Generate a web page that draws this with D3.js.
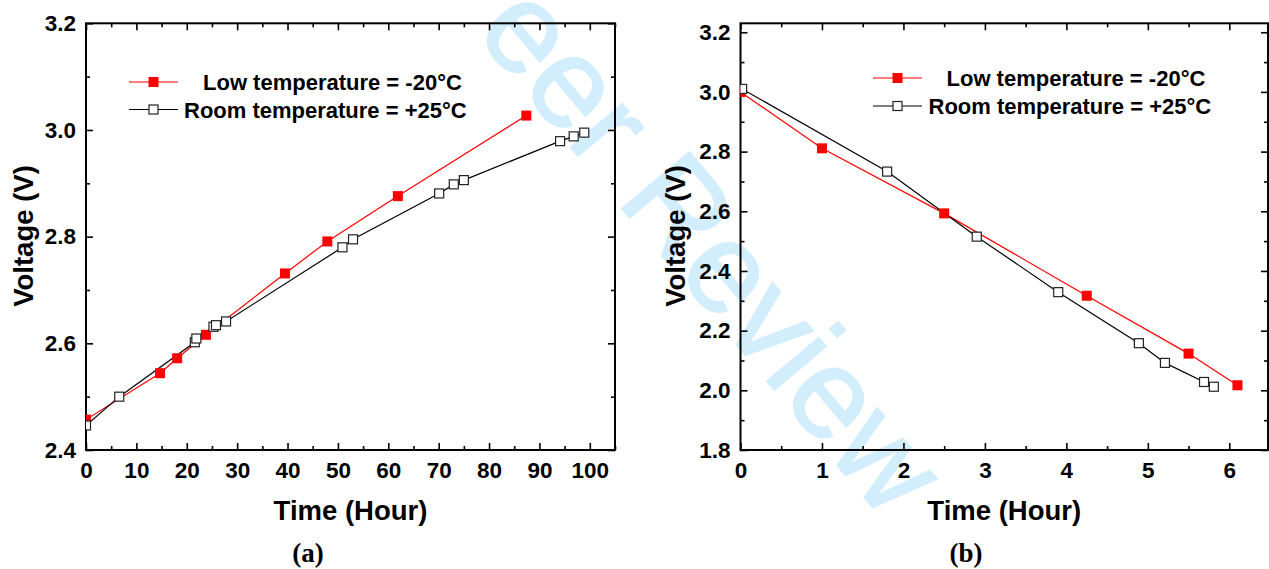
<!DOCTYPE html>
<html>
<head>
<meta charset="utf-8">
<script src="https://cdn.jsdelivr.net/npm/d3@7"></script>
<style>
  html, body { margin: 0; padding: 0; background: #fff; }
  svg { display: block; }
</style>
</head>
<body>
<svg id="fig" width="1269" height="569"></svg>
<script>
// (a) charging curves: time in hours, voltage in volts
const chargeLowTime  = [0, 14.7, 18.1, 23.8, 39.5, 47.9, 61.9, 87.4];
const chargeLowVolt  = [2.457, 2.544, 2.572, 2.616, 2.731, 2.791, 2.876, 3.027];
const chargeRoomTime = [0, 6.6, 21.6, 21.9, 25.3, 25.8, 27.8, 50.9, 53.0, 70.1, 73.0, 75.0, 94.1, 96.8, 98.9];
const chargeRoomVolt = [2.446, 2.500, 2.602, 2.609, 2.631, 2.634, 2.641, 2.780, 2.795, 2.881, 2.898, 2.906, 2.979, 2.988, 2.995];

// (b) discharging curves
const dischargeLowTime  = [0, 1.0, 2.5, 4.25, 5.5, 6.1];
const dischargeLowVolt  = [3.0, 2.811, 2.593, 2.317, 2.123, 2.017];
const dischargeRoomTime = [0.02, 1.8, 2.9, 3.9, 4.89, 5.21, 5.69, 5.81];
const dischargeRoomVolt = [3.01, 2.733, 2.515, 2.329, 2.158, 2.092, 2.028, 2.012];

const seriesNames = ["Low temperature = -20°C", "Room temperature = +25°C"];
const xTitle = "Time (Hour)";
const yTitle = "Voltage (V)";

// tick labels
const xTicksA = [0, 10, 20, 30, 40, 50, 60, 70, 80, 90, 100];
const yTicksA = [2.4, 2.6, 2.8, 3.0, 3.2];
const xTicksB = [0, 1, 2, 3, 4, 5, 6];
const yTicksB = [1.8, 2.0, 2.2, 2.4, 2.6, 2.8, 3.0, 3.2];

const SANS = "'Liberation Sans', Arial, Helvetica, sans-serif";
const SERIF = "'Liberation Serif', 'Times New Roman', serif";
const RED = "#ff0000";

const svg = d3.select("#fig");

// faint diagonal stamp behind the figure
svg.append("text")
  .attr("transform", "translate(885,522) rotate(50)")
  .attr("text-anchor", "end")
  .attr("font-family", SANS)
  .attr("font-size", 128)
  .attr("fill", "#d2edfb")
  .attr("stroke", "#d2edfb")
  .attr("stroke-width", 1.8)
  .text("For Peer Review");

function panel(cfg) {
  const x = d3.scaleLinear().domain(cfg.xDomain).range([cfg.left, cfg.right]);
  const y = d3.scaleLinear().domain(cfg.yDomain).range([cfg.bottom, cfg.top]);
  const g = svg.append("g");

  const clipId = "clip-" + cfg.id;
  svg.append("clipPath").attr("id", clipId)
    .append("rect")
    .attr("x", cfg.left).attr("y", cfg.top)
    .attr("width", cfg.right - cfg.left).attr("height", cfg.bottom - cfg.top);

  const styleAxis = sel => {
    sel.select(".domain").remove();
    sel.selectAll(".tick line").attr("stroke", "#000").attr("stroke-width", 1.6);
    sel.selectAll("text")
      .attr("font-family", SANS).attr("font-weight", "bold")
      .attr("font-size", 22.5).attr("fill", "#000");
  };

  const [x0, x1] = cfg.xDomain, [y0, y1] = cfg.yDomain;
  const xMinor = d3.range(x0, x1 + 1e-9, cfg.xMinorStep).filter(v => !cfg.xTicks.some(t => Math.abs(t - v) < 1e-9));
  const yMinor = d3.range(cfg.yTicks[0], y1 + 1e-9, cfg.yMinorStep).filter(v => !cfg.yTicks.some(t => Math.abs(t - v) < 1e-9));

  // bottom
  g.append("g").attr("transform", `translate(0,${cfg.bottom})`)
    .call(d3.axisBottom(x).tickValues(cfg.xTicks).tickSize(-7).tickPadding(12.5).tickFormat(d3.format("d")))
    .call(styleAxis);
  g.append("g").attr("transform", `translate(0,${cfg.bottom})`)
    .call(d3.axisBottom(x).tickValues(xMinor).tickSize(-4).tickFormat(""))
    .call(styleAxis);
  // top
  g.append("g").attr("transform", `translate(0,${cfg.top})`)
    .call(d3.axisTop(x).tickValues(cfg.xTicks).tickSize(-7).tickFormat(""))
    .call(styleAxis);
  g.append("g").attr("transform", `translate(0,${cfg.top})`)
    .call(d3.axisTop(x).tickValues(xMinor).tickSize(-4).tickFormat(""))
    .call(styleAxis);
  // left
  g.append("g").attr("transform", `translate(${cfg.left},0)`)
    .call(d3.axisLeft(y).tickValues(cfg.yTicks).tickSize(-7).tickPadding(10).tickFormat(d3.format(".1f")))
    .call(styleAxis);
  g.append("g").attr("transform", `translate(${cfg.left},0)`)
    .call(d3.axisLeft(y).tickValues(yMinor).tickSize(-4).tickFormat(""))
    .call(styleAxis);
  // right
  g.append("g").attr("transform", `translate(${cfg.right},0)`)
    .call(d3.axisRight(y).tickValues(cfg.yTicks).tickSize(-7).tickFormat(""))
    .call(styleAxis);
  g.append("g").attr("transform", `translate(${cfg.right},0)`)
    .call(d3.axisRight(y).tickValues(yMinor).tickSize(-4).tickFormat(""))
    .call(styleAxis);

  // plot frame
  g.append("rect")
    .attr("x", cfg.left).attr("y", cfg.top)
    .attr("width", cfg.right - cfg.left).attr("height", cfg.bottom - cfg.top)
    .attr("fill", "none").attr("stroke", "#000").attr("stroke-width", 2);

  // data
  const plot = g.append("g").attr("clip-path", `url(#${clipId})`);
  const line = d3.line().x(d => x(d[0])).y(d => y(d[1]));
  const low = d3.zip(cfg.lowTime, cfg.lowVolt);
  const room = d3.zip(cfg.roomTime, cfg.roomVolt);

  plot.append("path").datum(low).attr("d", line)
    .attr("fill", "none").attr("stroke", RED).attr("stroke-width", 1.2);
  plot.append("path").datum(room).attr("d", line)
    .attr("fill", "none").attr("stroke", "#000").attr("stroke-width", 1.2);

  plot.selectAll(".low").data(low).join("rect").attr("class", "low")
    .attr("x", d => x(d[0]) - 5).attr("y", d => y(d[1]) - 5)
    .attr("width", 10).attr("height", 10).attr("fill", RED);
  plot.selectAll(".room").data(room).join("rect").attr("class", "room")
    .attr("x", d => x(d[0]) - 4.5).attr("y", d => y(d[1]) - 4.5)
    .attr("width", 9).attr("height", 9)
    .attr("fill", "#fff").attr("stroke", "#222").attr("stroke-width", 1.2);

  // legend
  const lg = g.append("g");
  const lx0 = cfg.legend.x0, lx1 = cfg.legend.x1, lm = (lx0 + lx1) / 2;
  const rows = [
    { y: cfg.legend.y[0], color: RED, tx: cfg.legend.tx[0], name: seriesNames[0], filled: true },
    { y: cfg.legend.y[1], color: "#000", tx: cfg.legend.tx[1], name: seriesNames[1], filled: false }
  ];
  rows.forEach(r => {
    lg.append("line").attr("x1", lx0).attr("x2", lx1).attr("y1", r.y).attr("y2", r.y)
      .attr("stroke", r.color).attr("stroke-width", 1.2);
    if (r.filled) {
      lg.append("rect").attr("x", lm - 5).attr("y", r.y - 5).attr("width", 10).attr("height", 10).attr("fill", RED);
    } else {
      lg.append("rect").attr("x", lm - 4.5).attr("y", r.y - 4.5).attr("width", 9).attr("height", 9)
        .attr("fill", "#fff").attr("stroke", "#222").attr("stroke-width", 1.2);
    }
    lg.append("text").attr("x", r.tx).attr("y", r.y + 8)
      .attr("font-family", SANS).attr("font-weight", "bold").attr("font-size", 22)
      .text(r.name);
  });

  // axis titles
  g.append("text")
    .attr("x", (cfg.left + cfg.right) / 2).attr("y", 520)
    .attr("text-anchor", "middle")
    .attr("font-family", SANS).attr("font-weight", "bold").attr("font-size", 27.5)
    .text(xTitle);
  g.append("text")
    .attr("transform", `translate(${cfg.yTitleX},236) rotate(-90)`)
    .attr("text-anchor", "middle")
    .attr("font-family", SANS).attr("font-weight", "bold").attr("font-size", 27.5)
    .text(yTitle);

  // panel caption
  g.append("text")
    .attr("x", cfg.captionX).attr("y", 562)
    .attr("text-anchor", "middle")
    .attr("font-family", SERIF).attr("font-weight", "bold").attr("font-size", 27)
    .text(cfg.caption);
}

panel({
  id: "a", caption: "(a)", captionX: 308,
  left: 86, right: 615, top: 23.3, bottom: 450,
  xDomain: [0, 105], yDomain: [2.4, 3.2],
  xTicks: xTicksA, yTicks: yTicksA, xMinorStep: 5, yMinorStep: 0.1,
  lowTime: chargeLowTime, lowVolt: chargeLowVolt,
  roomTime: chargeRoomTime, roomVolt: chargeRoomVolt,
  legend: { x0: 129, x1: 178, y: [82, 109.5], tx: [203, 184] },
  yTitleX: 33.3
});

panel({
  id: "b", caption: "(b)", captionX: 966,
  left: 740.5, right: 1268, top: 23.3, bottom: 450,
  xDomain: [0, 6.475], yDomain: [1.8, 3.23],
  xTicks: xTicksB, yTicks: yTicksB, xMinorStep: 0.5, yMinorStep: 0.1,
  lowTime: dischargeLowTime, lowVolt: dischargeLowVolt,
  roomTime: dischargeRoomTime, roomVolt: dischargeRoomVolt,
  legend: { x0: 873, x1: 922, y: [78, 106], tx: [946.5, 928.5] },
  yTitleX: 685
});
</script>
</body>
</html>
